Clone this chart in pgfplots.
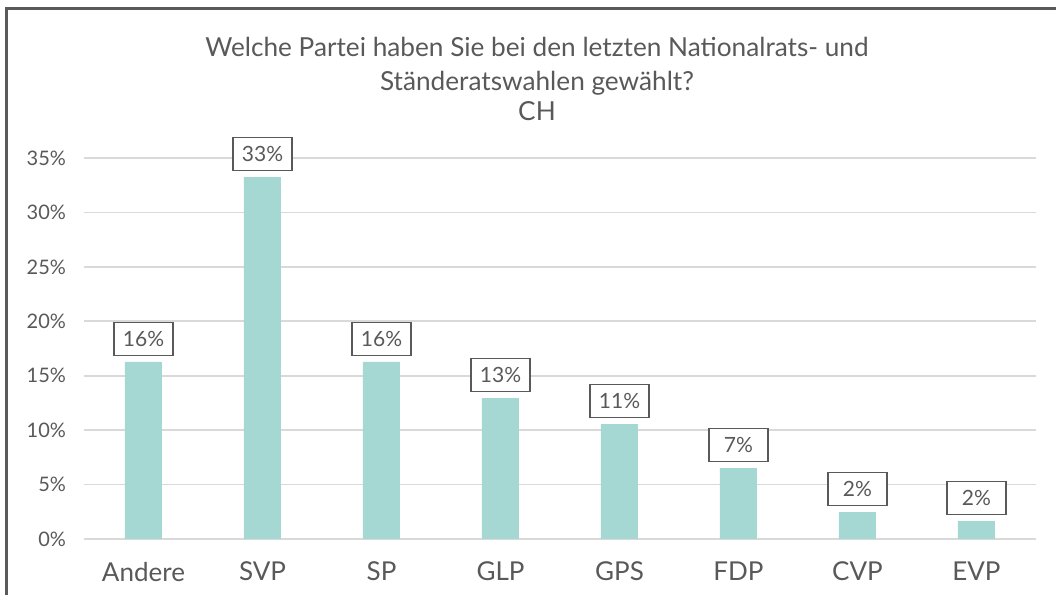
\documentclass[border=0pt]{standalone}
\usepackage{fontspec}
\setmainfont{Lato}
\usepackage{pgfplots}
\pgfplotsset{compat=1.18}
\definecolor{barcol}{HTML}{A5D8D3}
\definecolor{txt}{HTML}{595959}
\definecolor{gridcol}{HTML}{D9D9D9}
\definecolor{framecol}{HTML}{5A5A5A}

\begin{document}
\begin{tikzpicture}
\useasboundingbox (-42pt,-28pt) rectangle (486pt,269.5pt);
% frame (left and top edges visible)
\draw[framecol, line width=1.5pt] (-38.5pt,-40pt) -- (-38.5pt,265pt) -- (500pt,265pt);
\begin{axis}[
  scale only axis,
  width=476pt, height=190.5pt,
  ybar, bar width=18.5pt,
  xmin=-0.5, xmax=7.5,
  ymin=0, ymax=35,
  xtick=data,
  xticklabels={Andere,SVP,SP,GLP,GPS,FDP,CVP,EVP},
  ytick={0,5,...,35},
  yticklabel={\pgfmathprintnumber{\tick}\%},
  /pgf/number format/assume math mode=true,
  axis line style={draw=none},
  major tick length=0pt,
  ymajorgrids,
  grid style={gridcol, line width=0.8pt},
  x tick label style={font=\fontsize{13}{15}\selectfont, text=txt, yshift=-8pt},
  y tick label style={font=\fontsize{10}{12}\selectfont, text=txt, xshift=-5.5pt},
  point meta=rawy,
  nodes near coords={\pgfmathprintnumber[fixed,precision=0]{\pgfplotspointmeta}\%},
  nodes near coords style={draw=txt, fill=white, line width=0.65pt,
    minimum width=29.5pt, minimum height=16.5pt, inner sep=0pt,
    anchor=south, yshift=3pt, text=txt, font=\fontsize{10.5}{12}\selectfont,
    /pgf/number format/assume math mode=true},
]
\addplot[fill=barcol, draw=none] coordinates {
  (0,16.26) (1,33.25) (2,16.26) (3,12.95) (4,10.56) (5,6.52) (6,2.48) (7,1.65)};
\end{axis}
\node[anchor=base, text=txt, font=\fontsize{13.1}{15}\selectfont] at (226.5pt,241pt) {Welche Partei haben Sie bei den letzten Nationalrats- und};
\node[anchor=base, text=txt, font=\fontsize{13.1}{15}\selectfont] at (226.5pt,224pt) {Ständeratswahlen gewählt?};
\node[anchor=base, text=txt, font=\fontsize{13.1}{15}\selectfont] at (226.5pt,209pt) {CH};
\end{tikzpicture}
\end{document}
